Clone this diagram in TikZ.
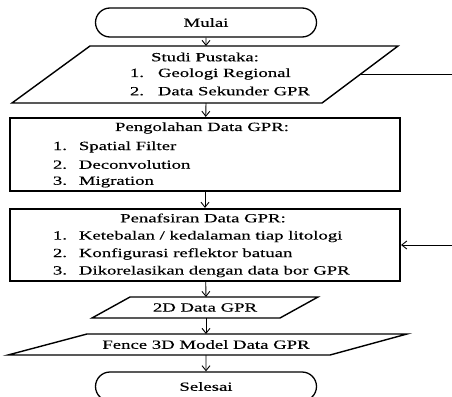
\documentclass[tikz,border=0pt]{standalone}
\usepackage{fontspec}
\setmainfont{Liberation Serif}[FakeStretch=1.5,FakeBold=0.25]
\usetikzlibrary{shapes.misc,arrows.meta}

\begin{document}
\begin{tikzpicture}[x=1pt, y=-1pt, line width=1.2pt,
   font=\fontsize{12.5}{15}\selectfont,
   terminal/.style={rounded rectangle, draw, line width=1.3pt, minimum width=221pt, minimum height=29pt, inner sep=0pt},
   proses/.style={rectangle, draw, line width=2.2pt, minimum width=390pt, inner sep=0pt},
   data/.style={line width=1.4pt},
   alur/.style={-{Straight Barb[length=5pt,width=8pt]}, line width=0.9pt}]
\useasboundingbox (0,0) rectangle (452,396);
\fill[white] (0,0) rectangle (452,396);
\clip (0,0) rectangle (452,396);

% awal dan akhir
\node[terminal] (mulai) at (206,22.5) {Mulai};
\node[terminal] (selesai) at (206,386.5) {Selesai};

% studi pustaka
\coordinate (studiatas) at (206,46);
\coordinate (studibawah) at (206,103);
\coordinate (studikanan) at (361,74);
\draw[data] (90,46) -- (398,46) -- (322,103) -- (12,103) -- cycle;
\node (studi) at (205,57) {Studi Pustaka:};
\foreach \teks [count=\n] in {Geologi Regional, Data Sekunder GPR}
   \node[anchor=west] (studi\n) at (126,57+17*\n) {\makebox[28pt][l]{\n.}\teks};

% pengolahan
\node[proses, minimum height=73pt] (olah) at (205,154.5) {};
\node (olahjudul) at (202,128) {Pengolahan Data GPR:};
\foreach \teks [count=\n] in {Spatial Filter, Deconvolution, Migration}
   \node[anchor=west] (olah\n) at (49,129.5+17.5*\n) {\makebox[26pt][l]{\n.}\teks};

% penafsiran
\node[proses, minimum height=72pt] (tafsir) at (205,245) {};
\node (tafsirjudul) at (203,218) {Penafsiran Data GPR:};
\foreach \teks [count=\n] in {Ketebalan / kedalaman tiap litologi,
      Konfigurasi reflektor batuan, Dikorelasikan dengan data bor GPR}
   \node[anchor=west] (tafsir\n) at (49,219+17.5*\n) {\makebox[26pt][l]{\n.}\teks};

% hasil
\coordinate (duaatas) at (206,297);
\coordinate (duabawah) at (206,318);
\draw[data] (130,297) -- (318,297) -- (280,318) -- (92,318) -- cycle;
\node (dua) at (205,307.5) {2D Data GPR};

\coordinate (fenceatas) at (206,334);
\coordinate (fencebawah) at (206,355);
\draw[data] (87,334) -- (407,334) -- (330,355) -- (8,355) -- cycle;
\node (fence) at (206,344.5) {Fence 3D Model Data GPR};

% alur
\draw[alur] (mulai) -- (studiatas);
\draw[alur] (studibawah) -- (olah);
\draw[alur] (olah) -- (tafsir);
\draw[alur] (tafsir) -- (duaatas);
\draw[alur] (duabawah) -- (fenceatas);
\draw[alur] (fencebawah) -- (selesai);

\coordinate (luar1) at (452,74);
\coordinate (luar2) at (452,245);
\draw[line width=0.9pt] (studikanan) -- (luar1);
\draw[alur] (luar2) -- (tafsir);
\end{tikzpicture}
\end{document}
